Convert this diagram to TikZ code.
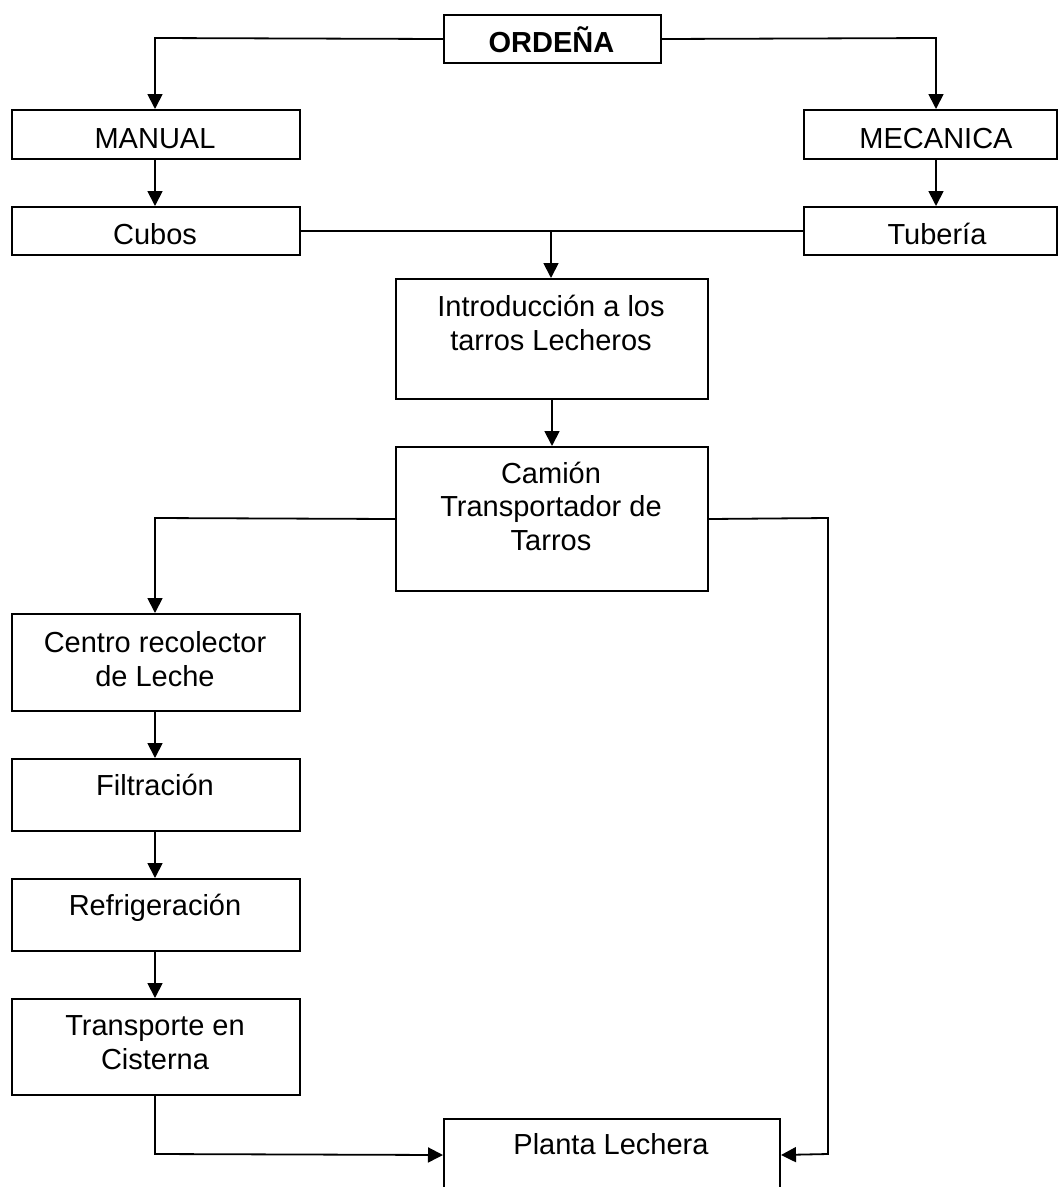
\documentclass[tikz,border=0pt]{standalone}
\usepackage{fontspec}
\setmainfont{Liberation Sans}
\usetikzlibrary{arrows.meta}
\tikzset{
  box/.style={draw, line width=2pt, inner sep=0pt, anchor=north west},
  lbl/.style={anchor=base, align=center, inner sep=0pt, font=\fontsize{29}{33.5}\selectfont},
  conn/.style={line width=1.8pt},
  arr/.style={conn, -{Triangle[length=15pt,width=15pt]}}
}
\begin{document}
\begin{tikzpicture}[x=1pt,y=-1pt]
\useasboundingbox (0,0) rectangle (1058,1187);
\clip (0,0) rectangle (1058,1187);
% boxes
\node[box, minimum width=217pt, minimum height=48pt] (ord) at (443,14) {};
\node[box, minimum width=288pt, minimum height=49pt] (man) at (11,109) {};
\node[box, minimum width=253pt, minimum height=49pt] (mec) at (803,109) {};
\node[box, minimum width=288pt, minimum height=48pt] (cub) at (11,206) {};
\node[box, minimum width=253pt, minimum height=48pt] (tub) at (803,206) {};
\node[box, minimum width=312pt, minimum height=120pt] (intro) at (395,278) {};
\node[box, minimum width=312pt, minimum height=144pt] (cam) at (395,446) {};
\node[box, minimum width=288pt, minimum height=97pt] (cen) at (11,613) {};
\node[box, minimum width=288pt, minimum height=72pt] (fil) at (11,758) {};
\node[box, minimum width=288pt, minimum height=72pt] (ref) at (11,878) {};
\node[box, minimum width=288pt, minimum height=96pt] (tra) at (11,998) {};
\node[box, minimum width=336pt, minimum height=72pt] (pla) at (443,1118) {};
% labels (multi-line labels are placed by the baseline of their last line)
\node[lbl, font=\fontsize{29}{33.5}\selectfont\bfseries] (tord) at (551.5,52) {ORDEÑA};
\node[lbl] (tman) at (155,148) {MANUAL};
\node[lbl] (tmec) at (936,148) {MECANICA};
\node[lbl] (tcub) at (155,244) {Cubos};
\node[lbl] (ttub) at (937,244) {Tubería};
\node[lbl] (tintro) at (551,350) {Introducción a los\\tarros Lecheros};
\node[lbl] (tcam) at (551,550) {Camión\\Transportador de\\Tarros};
\node[lbl] (tcen) at (155,686) {Centro recolector\\de Leche};
\node[lbl] (tfil) at (155,795) {Filtración};
\node[lbl] (tref) at (155,915) {Refrigeración};
\node[lbl] (ttra) at (155,1069) {Transporte en\\Cisterna};
\node[lbl] (tpla) at (611,1154) {Planta Lechera};
% junction coordinates
\coordinate (jl) at (155,38);
\coordinate (jr) at (936,38);
\coordinate (jm) at (551,230);
\coordinate (cl) at (155,518);
\coordinate (cr) at (828,518);
\coordinate (pr) at (828,1154);
\coordinate (pl) at (155,1154);
% connectors
\draw[arr] (ord.west) -- (jl) -- (jl |- man.north);
\draw[arr] (ord.east) -- (jr) -- (jr |- mec.north);
\draw[arr] (jl |- man.south) -- (jl |- cub.north);
\draw[arr] (jr |- mec.south) -- (jr |- tub.north);
\draw[conn] (cub.east) -- (tub.west);
\draw[arr] (jm) -- (jm |- intro.north);
\draw[arr] (intro.south) -- (cam.north);
\draw[arr] (cam.west) -- (cl) -- (cl |- cen.north);
\draw[arr] (cam.east) -- (cr) -- (pr) -- (pla.east);
\draw[arr] (cl |- cen.south) -- (cl |- fil.north);
\draw[arr] (cl |- fil.south) -- (cl |- ref.north);
\draw[arr] (cl |- ref.south) -- (cl |- tra.north);
\draw[arr] (cl |- tra.south) -- (pl) -- (pla.west);
\end{tikzpicture}
\end{document}
